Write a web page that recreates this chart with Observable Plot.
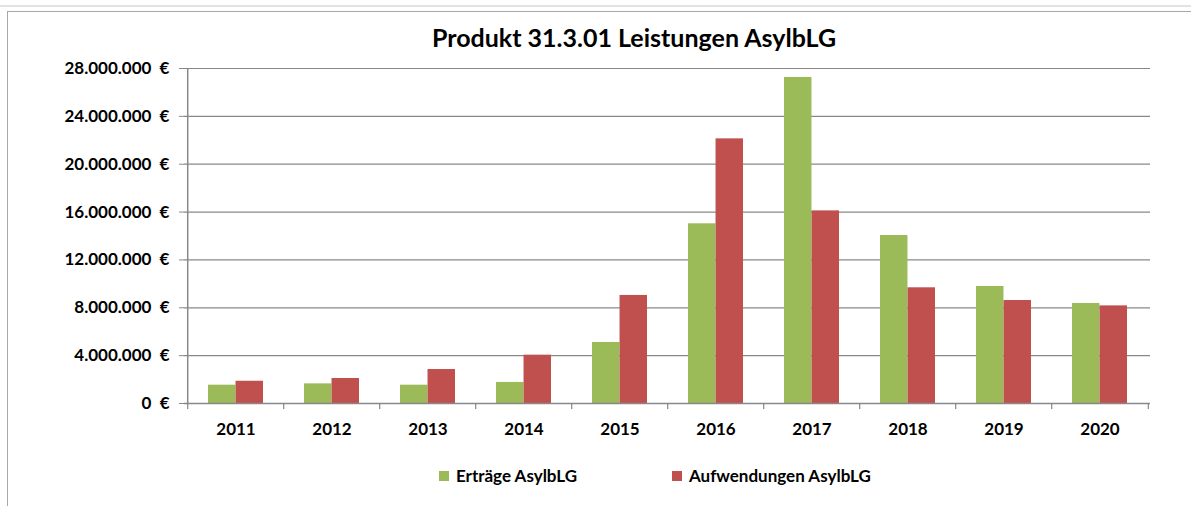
<!DOCTYPE html>
<html><head><meta charset="utf-8">
<script src="https://cdn.jsdelivr.net/npm/d3@7"></script>
<script src="https://cdn.jsdelivr.net/npm/@observablehq/plot@0.6"></script>
<style>
body{margin:0;background:#fff;font-family:Lato,"Open Sans",sans-serif;}
#wrap{position:relative;width:1191px;height:506px;overflow:hidden;background:#fff;}
#sheet{position:absolute;left:0;top:5px;width:1191px;height:2px;background:#e2e2e2;}
#frame{position:absolute;left:7px;top:11px;width:1300px;height:600px;border-left:1.5px solid #a8a8a8;border-top:1.5px solid #a8a8a8;}
#title{position:absolute;left:334px;width:600px;top:22px;text-align:center;font-weight:700;font-size:25px;color:#000;}
#chart{position:absolute;left:0;top:55px;}
.leg{position:absolute;top:465px;display:flex;align-items:center;font-weight:700;font-size:17px;color:#000;}
.leg span.sw{display:inline-block;width:10px;height:10px;margin-right:7px;}
</style></head><body>
<div id="wrap">
  <div id="sheet"></div>
  <div id="frame"></div>
  <div id="title">Produkt 31.3.01 Leistungen AsylbLG</div>
  <div id="chart"></div>
</div>
<script>
const years = ["2011","2012","2013","2014","2015","2016","2017","2018","2019","2020"];
const ertraege = [1530000,1640000,1530000,1760000,5100000,15020000,27250000,14040000,9780000,8360000];
const aufwendungen = [1860000,2090000,2840000,4040000,9030000,22120000,16100000,9670000,8610000,8160000];
const seriesNames = ["Erträge AsylbLG","Aufwendungen AsylbLG"];
const seriesColors = ["#9BBB59","#C0504D"];
const yTicks = [0,4000000,8000000,12000000,16000000,20000000,24000000,28000000];

const W = 1191, mL = 184, mR = 41;
const step = (W - mL - mR) / years.length;
const padInner = 0.43;
const half = step * (1 - padInner) / 2;

const table = [];
years.forEach((y,i)=>{
  table.push({year:y, series:seriesNames[0], value:ertraege[i]});
  table.push({year:y, series:seriesNames[1], value:aufwendungen[i]});
});

const loc = d3.formatLocale({decimal:",", thousands:".", grouping:[3], currency:["","\u00a0€"]});
const fmt = v => loc.format(",")(v) + "\u00a0\u00a0€";
const gray = "#888888";

const plot = Plot.plot({
  width: W, height: 400,
  marginLeft: mL, marginRight: mR, marginTop: 13, marginBottom: 52,
  style: {fontFamily: "Lato, 'Open Sans', sans-serif", background: "transparent"},
  x: {type: "band", domain: years, paddingInner: padInner, paddingOuter: padInner/2},
  y: {domain: [0, 28000000]},
  color: {domain: seriesNames, range: seriesColors},
  marks: [
    Plot.ruleY(yTicks, {stroke: gray, strokeWidth: 1.2}),
    Plot.ruleX([years[0]], {dx: -step/2, stroke: gray, strokeWidth: 1.5}),
    Plot.barY(table.filter(d=>d.series===seriesNames[0]), {x:"year", y:"value", fill:"series", insetRight: half}),
    Plot.barY(table.filter(d=>d.series===seriesNames[1]), {x:"year", y:"value", fill:"series", insetLeft: half}),
    Plot.ruleY([0], {stroke: gray, strokeWidth: 1.5}),
    Plot.ruleX(years, {y1: 0, y2: 0, insetBottom: -6, dx: -step/2, stroke: gray, strokeWidth: 1.2}),
    Plot.ruleX([years[years.length-1]], {y1: 0, y2: 0, insetBottom: -6, dx: step/2, stroke: gray, strokeWidth: 1.2}),
    Plot.axisY(yTicks, {tickSize: 5, tickPadding: 10, tickFormat: fmt, fontSize: 17, fontWeight: 700, stroke: gray, fill: "#000", label: null}),
    Plot.axisX({tickSize: 0, tickPadding: 19, fontSize: 17, fontWeight: 700, fill: "#000", label: null})
  ]
});
document.getElementById("chart").appendChild(plot);

const wrap = document.getElementById("wrap");
const legLeft = [439, 672];
seriesNames.forEach((n,i)=>{
  const d = document.createElement("div");
  d.className = "leg";
  d.style.left = legLeft[i] + "px";
  d.innerHTML = `<span class="sw" style="background:${seriesColors[i]}"></span><span>${n}</span>`;
  wrap.appendChild(d);
});
</script>
</body></html>
